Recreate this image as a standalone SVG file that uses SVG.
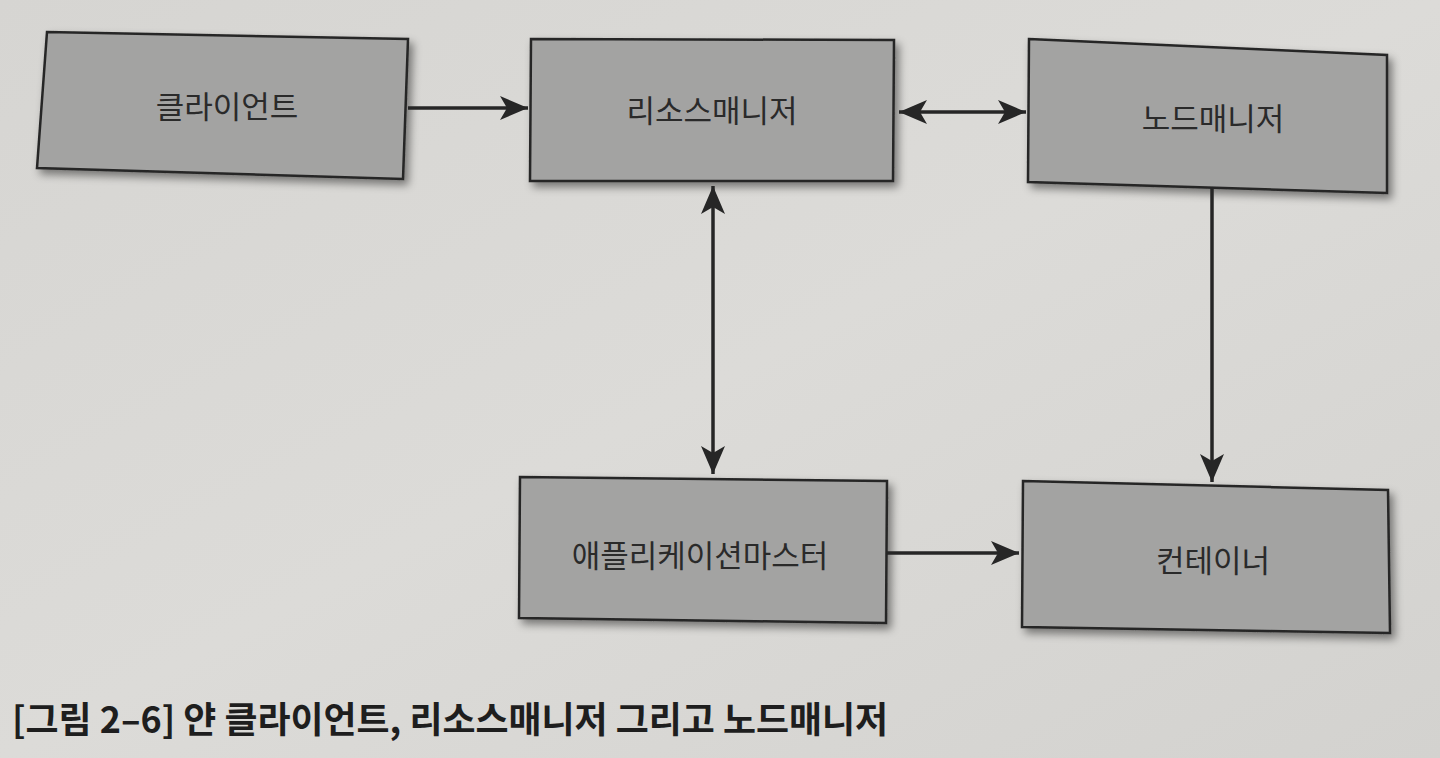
<svg xmlns="http://www.w3.org/2000/svg" width="1440" height="758" viewBox="0 0 1440 758">
<defs>
<linearGradient id="bg" x1="0" y1="0" x2="1" y2="1">
<stop offset="0" stop-color="#d6d5d2"/>
<stop offset="0.5" stop-color="#dcdbd8"/>
<stop offset="1" stop-color="#d3d2cf"/>
</linearGradient>
<filter id="sh" x="-10%" y="-10%" width="125%" height="130%">
<feDropShadow dx="4" dy="5" stdDeviation="4" flood-color="#000" flood-opacity="0.45"/>
</filter>
<marker id="ah" viewBox="0 0 28 24" refX="28" refY="12" markerWidth="28" markerHeight="24" markerUnits="userSpaceOnUse" orient="auto-start-reverse">
<path d="M0,0 L28,12 L0,24 L7,12 z" fill="#262626"/>
</marker>
<style>
.box{fill:#a3a3a2;stroke:#262626;stroke-width:2.5;stroke-linejoin:miter;filter:url(#sh)}
.lbl{font-family:"Noto Sans CJK KR","Noto Sans",sans-serif;font-size:31px;fill:#2a2a2a;text-anchor:middle;dominant-baseline:central}
.cn{stroke:#262626;stroke-width:3.5;fill:none}
.cap{font-family:"Noto Sans CJK KR","Noto Sans",sans-serif;font-size:36px;font-weight:bold;fill:#1e1e1e}
</style>
</defs>
<rect width="1440" height="758" fill="url(#bg)"/>
<g id="client">
<polygon class="box" points="47,32 408,39 403,179 37,168"/>
<text class="lbl" x="227" y="104">클라이언트</text>
</g>
<g id="resourcemanager">
<polygon class="box" points="531,39 894,40 893,181 530,181"/>
<text class="lbl" x="712" y="108">리소스매니저</text>
</g>
<g id="nodemanager">
<polygon class="box" points="1029,39 1387,55 1387,193 1028,182"/>
<text class="lbl" x="1213" y="116">노드매니저</text>
</g>
<g id="applicationmaster">
<polygon class="box" points="520,477 887,481 886,623 519,618"/>
<text class="lbl" x="700" y="553">애플리케이션마스터</text>
</g>
<g id="container">
<polygon class="box" points="1023,481 1388,490 1390,633 1022,627"/>
<text class="lbl" x="1213" y="558">컨테이너</text>
</g>
<g id="connectors">
<line class="cn" x1="408" y1="108" x2="528" y2="108" marker-end="url(#ah)"/>
<line class="cn" x1="899" y1="112" x2="1026" y2="112" marker-start="url(#ah)" marker-end="url(#ah)"/>
<line class="cn" x1="713" y1="186" x2="713" y2="474" marker-start="url(#ah)" marker-end="url(#ah)"/>
<line class="cn" x1="1212" y1="188" x2="1212" y2="482" marker-end="url(#ah)"/>
<line class="cn" x1="887" y1="553" x2="1019" y2="553" marker-end="url(#ah)"/>
</g>
<text class="cap" x="12" y="733" textLength="876" lengthAdjust="spacingAndGlyphs">[그림 2–6] 얀 클라이언트, 리소스매니저 그리고 노드매니저</text>
</svg>
